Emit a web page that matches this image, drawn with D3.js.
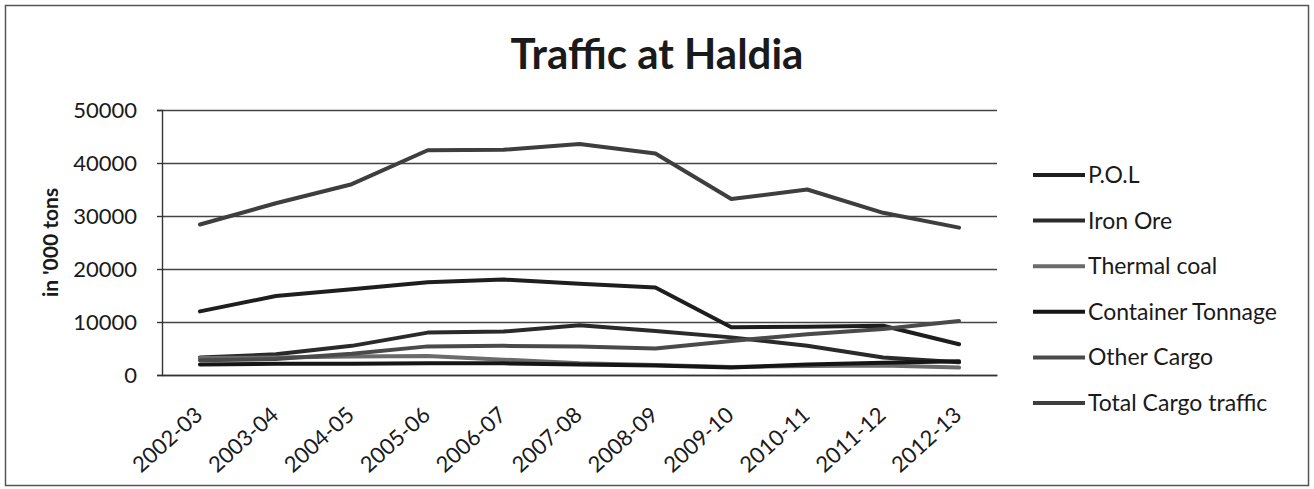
<!DOCTYPE html>
<meta charset="utf-8">
<html>
<head>
  <style>
    body { margin: 0; background: #fff; }
    text { font-family: Lato, "Liberation Sans", sans-serif; fill: #1a1a1a; }
    .grid line { stroke: #444; stroke-width: 1.4; }
    .grid path { display: none; }
  </style>
</head>
<body>
<script src="https://d3js.org/d3.v7.min.js"></script>
<script>

// data (in '000 tons)
var years = ["2002-03", "2003-04", "2004-05", "2005-06", "2006-07", "2007-08",
             "2008-09", "2009-10", "2010-11", "2011-12", "2012-13"];
var pol         = [12000, 14900, 16200, 17500, 18000, 17200, 16500, 9000, 9100, 9300, 5800];
var ironOre     = [3300, 3900, 5500, 8000, 8200, 9400, 8300, 7100, 5500, 3300, 2400];
var thermalCoal = [3200, 3300, 3500, 3600, 2900, 2200, 1900, 1500, 1700, 1800, 1400];
var container   = [2000, 2100, 2100, 2200, 2200, 2000, 1800, 1400, 2000, 2300, 2600];
var otherCargo  = [2800, 3000, 4000, 5400, 5500, 5400, 5000, 6400, 7700, 8700, 10200];
var totalCargo  = [28400, 32400, 36000, 42400, 42500, 43600, 41800, 33200, 35000, 30600, 27800];
var seriesNames = ["P.O.L", "Iron Ore", "Thermal coal", "Container Tonnage", "Other Cargo", "Total Cargo traffic"];
var seriesColors = ["#1e1e1e", "#2a2a2a", "#6b6b6b", "#151515", "#4a4a4a", "#3e3e3e"];
var yTicks = [0, 10000, 20000, 30000, 40000, 50000];

var series = [pol, ironOre, thermalCoal, container, otherCargo, totalCargo].map(function(v, i) {
  return { name: seriesNames[i], color: seriesColors[i], values: v };
});

var W = 1314, H = 489;
var margin = {top: 110, right: 317, bottom: 114, left: 162},
width = W - margin.left - margin.right,
height = H - margin.top - margin.bottom;

var root = d3.select("body").append("svg")
  .attr("width", W)
  .attr("height", H);

// outer chart border
root.append("rect")
  .attr("x", 5.5).attr("y", 5.5)
  .attr("width", W - 11).attr("height", H - 9)
  .attr("fill", "none")
  .attr("stroke", "#555")
  .attr("stroke-width", 1.5);

root.append("text")
  .attr("x", 657)
  .attr("y", 69)
  .style("text-anchor", "middle")
  .style("font-weight", "bold")
  .style("font-size", "42px")
  .text("Traffic at Haldia");

var svg = root.append("g")
  .attr("transform", "translate(" + margin.left + "," + margin.top + ")");

var x = d3.scaleBand()
  .domain(years)
  .range([0, width]);

var y = d3.scaleLinear()
  .domain([0, 50000])
  .range([height, 0]);

// gridlines
svg.append("g")
  .attr("class", "grid")
  .call(d3.axisLeft(y).tickValues(yTicks).tickSize(-width).tickFormat(""));

// y axis
var yAxis = svg.append("g")
  .call(d3.axisLeft(y).tickValues(yTicks).tickSize(5).tickPadding(20).tickFormat(d3.format("d")));
yAxis.select(".domain").attr("stroke", "#333").attr("stroke-width", 1.4);
yAxis.selectAll(".tick line").attr("stroke", "#333").attr("stroke-width", 1.4);
yAxis.selectAll("text").style("font-size", "22px").attr("fill", "#1a1a1a");

svg.append("text")
  .attr("transform", "rotate(-90)")
  .attr("x", -y(25000))
  .attr("y", -104)
  .style("text-anchor", "middle")
  .style("font-weight", "bold")
  .style("font-size", "21px")
  .text("in '000 tons");

// x axis
var xAxis = svg.append("g")
  .attr("transform", "translate(0," + height + ")")
  .call(d3.axisBottom(x).tickSize(0).tickPadding(0));
xAxis.select(".domain").attr("stroke", "#333").attr("stroke-width", 1.6);
xAxis.selectAll("text")
  .style("font-size", "22px")
  .attr("fill", "#1a1a1a")
  .attr("dy", null)
  .attr("y", 0)
  .style("text-anchor", "end")
  .attr("transform", "translate(4,42) rotate(-42)");

// lines
var line = d3.line()
  .x(function(d, i) { return x(years[i]) + x.bandwidth() / 2; })
  .y(function(d) { return y(d); });

svg.selectAll(".series")
  .data(series)
  .enter().append("path")
  .attr("class", "series")
  .attr("d", function(d) { return line(d.values); })
  .attr("fill", "none")
  .attr("stroke", function(d) { return d.color; })
  .attr("stroke-width", 4)
  .attr("stroke-linejoin", "round")
  .attr("stroke-linecap", "round");

// legend
var legend = root.selectAll(".legend")
  .data(series)
  .enter().append("g")
  .attr("class", "legend")
  .attr("transform", function(d, i) { return "translate(1033," + (175 + i * 45.6) + ")"; });

legend.append("line")
  .attr("x1", 0).attr("x2", 52)
  .attr("stroke", function(d) { return d.color; })
  .attr("stroke-width", 4);

legend.append("text")
  .attr("x", 55)
  .attr("dy", "0.35em")
  .style("font-size", "23px")
  .text(function(d) { return d.name; });

</script>
</body>
</html>
